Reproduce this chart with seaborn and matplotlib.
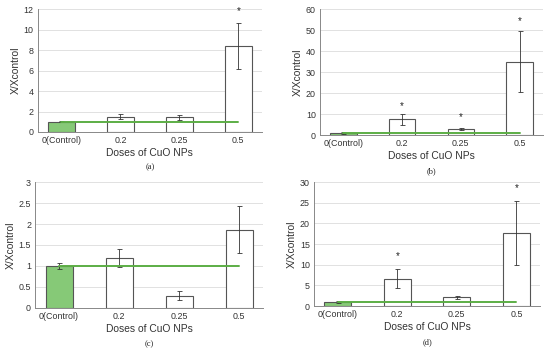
import numpy as np
import pandas as pd
import matplotlib
matplotlib.use("Agg")
import matplotlib.pyplot as plt
import seaborn as sns

doses = ["0(Control)", "0.2", "0.25", "0.5"]

# panel values (mean, error, star height)
a_mean = [1.0, 1.5, 1.45, 8.4]
a_err = [0.06, 0.25, 0.25, 2.2]
a_star = [None, None, None, 11.8]

b_mean = [1.0, 7.5, 3.0, 35.0]
b_err = [0.3, 2.5, 0.4, 14.5]
b_star = [None, 14.0, 8.5, 54.5]

c_mean = [1.0, 1.19, 0.29, 1.87]
c_err = [0.07, 0.21, 0.1, 0.55]
c_star = [None, None, None, None]

d_mean = [1.0, 6.6, 2.1, 17.7]
d_err = [0.15, 2.3, 0.3, 7.7]
d_star = [None, 12.2, None, 28.5]

panels = [
    ("(a)", a_mean, a_err, a_star, 12, 2, [0.069, 0.624, 0.407, 0.350]),
    ("(b)", b_mean, b_err, b_star, 60, 10, [0.582, 0.615, 0.405, 0.359]),
    ("(c)", c_mean, c_err, c_star, 3, 0.5, [0.064, 0.123, 0.414, 0.358]),
    ("(d)", d_mean, d_err, d_star, 30, 5, [0.571, 0.128, 0.411, 0.353]),
]

sns.set_style("white")
plt.rcParams["font.family"] = ["Liberation Sans", "DejaVu Sans"]

fig = plt.figure(figsize=(5.5, 3.51), dpi=100)

green = "#5cae45"
ctrl_fill = "#86c977"

for tag, means, errs, stars, ymax, step, rect in panels:
    ax = fig.add_axes(rect)
    df = pd.DataFrame({"dose": doses, "value": means})
    sns.barplot(data=df, x="dose", y="value", ax=ax, width=0.45,
                color="white", edgecolor="#555555", linewidth=0.8,
                errorbar=None)
    ax.patches[0].set_facecolor(ctrl_fill)
    pos = np.arange(len(doses))
    ax.errorbar(pos, means, yerr=errs, fmt="none", ecolor="#333333",
                elinewidth=0.6, capsize=1.8, capthick=0.6, zorder=4)
    ax.plot(pos, np.full(len(doses), means[0]), color=green, lw=1.4, zorder=5)
    for p, s in zip(pos, stars):
        if s is not None:
            ax.text(p, s, "*", ha="center", va="center", fontsize=7, color="#222222")

    ax.set_ylim(0, ymax)
    ticks = np.arange(0, ymax + step / 2, step)
    ax.set_yticks(ticks)
    ax.set_yticklabels([f"{t:g}" for t in ticks])
    ax.yaxis.grid(True, color="#dcdcdc", lw=0.6)
    ax.set_axisbelow(True)
    for side in ["top", "right"]:
        ax.spines[side].set_visible(False)
    for side in ["left", "bottom"]:
        ax.spines[side].set_color("#888888")
        ax.spines[side].set_linewidth(0.7)
    ax.tick_params(axis="both", length=0, labelsize=6.4, pad=3, colors="#333333")
    ax.set_xlabel("Doses of CuO NPs", fontsize=7.4, labelpad=2, color="#333333")
    ax.set_ylabel("X/Xcontrol", fontsize=7.4, labelpad=2, color="#333333")
    ax.text(0.5, -0.29, tag, transform=ax.transAxes, ha="center", va="center",
            fontsize=6, family="Liberation Serif", color="#222222")

plt.savefig("out.png", dpi=100)
plt.close()
